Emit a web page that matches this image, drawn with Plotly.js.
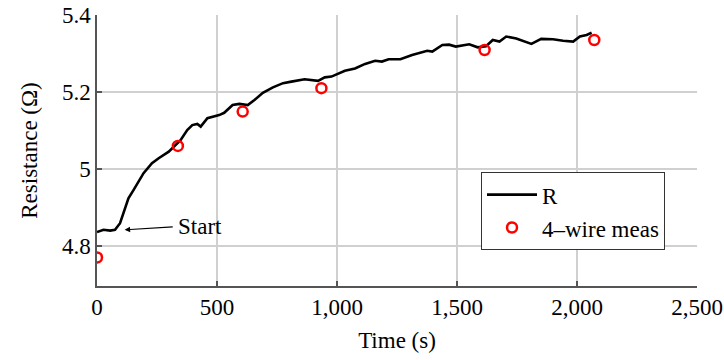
<!DOCTYPE html>
<html>
<head>
<meta charset="utf-8">
<script src="https://cdn.plot.ly/plotly-3.0.1.min.js"></script>
<style>
  html, body { margin: 0; padding: 0; background: #fff; }
  #chart { width: 724px; height: 360px; }
</style>
</head>
<body>
<div id="chart"></div>
<script>
// Two-wire resistance trace R(t)
const timeR = [0, 27, 55, 75, 96, 110, 131, 152, 194, 229, 257, 299, 320, 348, 376, 397, 418, 432, 460, 488, 509, 530, 565, 593, 628, 656, 691, 733, 775, 810, 865, 921, 949, 977, 1012, 1033, 1075, 1117, 1159, 1187, 1215, 1264, 1313, 1355, 1376, 1397, 1439, 1467, 1495, 1551, 1586, 1621, 1649, 1677, 1705, 1747, 1782, 1810, 1851, 1900, 1942, 1984, 2012, 2040, 2061];
const resR = [4.836, 4.842, 4.840, 4.842, 4.859, 4.885, 4.924, 4.945, 4.989, 5.015, 5.028, 5.045, 5.058, 5.075, 5.101, 5.114, 5.117, 5.110, 5.132, 5.136, 5.140, 5.146, 5.166, 5.169, 5.166, 5.179, 5.198, 5.212, 5.223, 5.227, 5.233, 5.229, 5.238, 5.240, 5.250, 5.255, 5.261, 5.273, 5.281, 5.279, 5.285, 5.285, 5.296, 5.303, 5.307, 5.305, 5.322, 5.323, 5.318, 5.324, 5.316, 5.319, 5.335, 5.331, 5.344, 5.339, 5.331, 5.325, 5.338, 5.337, 5.333, 5.331, 5.344, 5.348, 5.354];

// Four-wire reference measurements
const timeMeas = [0, 337, 607, 935, 1615, 2072];
const resMeas = [4.770, 5.060, 5.149, 5.210, 5.309, 5.335];

// Annotation marking the start of heating
const startLabel = 'Start';
const startPoint = [115, 4.842];
const startText = [328, 4.850];

const FONT = 'Liberation Serif, DejaVu Serif, serif';
const FS = 23;

const traces = [
  {
    x: timeR, y: resR, type: 'scatter', mode: 'lines', name: 'R',
    line: { color: '#000', width: 2.6 }
  },
  {
    x: timeMeas, y: resMeas, type: 'scatter', mode: 'markers', name: '4–wire meas',
    marker: { symbol: 'circle-open', size: 10, color: '#ff0000', line: { color: '#ff0000', width: 2.5 } }
  }
];

const layout = {
  width: 724, height: 360,
  margin: { l: 97, r: 27, t: 15, b: 74 },
  paper_bgcolor: '#fff', plot_bgcolor: '#fff',
  font: { family: FONT, size: FS, color: '#000' },
  showlegend: true,
  legend: {
    x: 0.64, y: 0.42, xanchor: 'left', yanchor: 'top',
    bgcolor: '#fff', bordercolor: '#333', borderwidth: 1,
    font: { family: FONT, size: FS, color: '#000' },
    tracegroupgap: 0, itemwidth: 50,
    entrywidth: 200, entrywidthmode: 'pixels'
  },
  xaxis: {
    range: [0, 2500], dtick: 500, tick0: 0, tickformat: ',d',
    showgrid: true, gridcolor: '#d0d0d0', gridwidth: 1.2,
    zeroline: false, showline: true, linecolor: '#555', linewidth: 1.6,
    ticks: 'inside', ticklen: 5, tickcolor: '#555', tickwidth: 1.2,
    tickfont: { family: FONT, size: FS, color: '#000' },
    title: { text: 'Time (s)', font: { family: FONT, size: FS, color: '#000' }, standoff: 12 }
  },
  yaxis: {
    range: [4.696, 5.4], dtick: 0.2, tick0: 4.8,
    showgrid: true, gridcolor: '#d0d0d0', gridwidth: 1.2,
    zeroline: false, showline: true, linecolor: '#555', linewidth: 1.6,
    ticks: 'inside', ticklen: 5, tickcolor: '#555', tickwidth: 1.2,
    tickfont: { family: FONT, size: FS, color: '#000' },
    title: { text: 'Resistance (Ω)', font: { family: FONT, size: FS, color: '#000' }, standoff: 18 }
  },
  annotations: [
    {
      x: startPoint[0], y: startPoint[1], xref: 'x', yref: 'y',
      ax: startText[0], ay: startText[1], axref: 'x', ayref: 'y',
      text: startLabel, xanchor: 'left', yanchor: 'middle',
      showarrow: true, arrowhead: 2, arrowsize: 1, arrowwidth: 1.1, arrowcolor: '#000',
      startstandoff: 3,
      font: { family: FONT, size: FS, color: '#000' }
    }
  ]
};

Plotly.newPlot('chart', traces, layout, { displayModeBar: false, staticPlot: true });
</script>
</body>
</html>
